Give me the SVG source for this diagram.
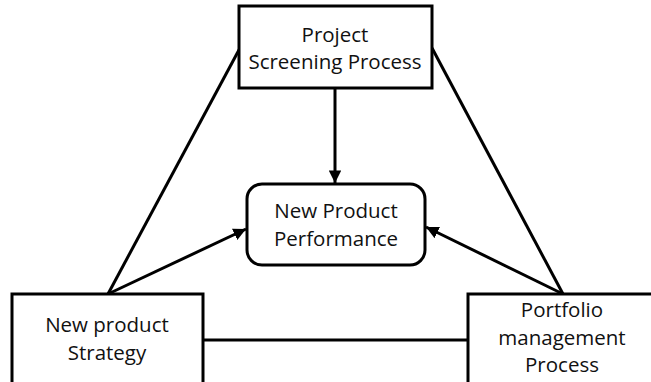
<svg xmlns="http://www.w3.org/2000/svg" width="651" height="382" viewBox="0 0 651 382">
  <defs>
    <marker id="arrow" viewBox="0 0 10 10" refX="10" refY="5" markerWidth="4.2" markerHeight="4.2" orient="auto" markerUnits="strokeWidth">
      <path d="M0,0 L10,5 L0,10 Z" fill="#000"/>
    </marker>
    <style>
      .box { fill: #fff; stroke: #000; stroke-width: 3; }
      .edge { fill: none; stroke: #000; stroke-width: 3; }
      .arrow { fill: none; stroke: #000; stroke-width: 3; marker-end: url(#arrow); }
      text { font-family: "Open Sans", "Liberation Sans", sans-serif; font-size: 20.5px; fill: #111; text-anchor: middle; }
    </style>
  </defs>
  <rect width="651" height="382" fill="#fff"/>

  <!-- connectors -->
  <g id="connectors">
    <line class="edge" x1="240" y1="48" x2="108" y2="294"/>
    <line class="edge" x1="432" y1="48" x2="563" y2="294"/>
    <line class="edge" x1="203" y1="340" x2="468" y2="340"/>
    <line class="arrow" x1="335" y1="88" x2="335" y2="183"/>
    <line class="arrow" x1="108" y1="294" x2="246" y2="229"/>
    <line class="arrow" x1="563" y1="294" x2="426" y2="227"/>
  </g>

  <g id="screening">
    <rect class="box" x="239" y="6" width="193" height="82"/>
    <text x="335" y="42">Project</text>
    <text x="335" y="69">Screening Process</text>
  </g>

  <g id="performance">
    <rect class="box" x="247" y="184" width="178" height="81" rx="15" ry="15"/>
    <text x="336" y="218">New Product</text>
    <text x="336" y="246">Performance</text>
  </g>

  <g id="strategy">
    <rect class="box" x="12" y="294" width="191" height="95"/>
    <text x="107" y="332">New product</text>
    <text x="107" y="360">Strategy</text>
  </g>

  <g id="portfolio">
    <rect class="box" x="468" y="294" width="190" height="95"/>
    <text x="562" y="317">Portfolio</text>
    <text x="562" y="345">management</text>
    <text x="562" y="372">Process</text>
  </g>
</svg>
